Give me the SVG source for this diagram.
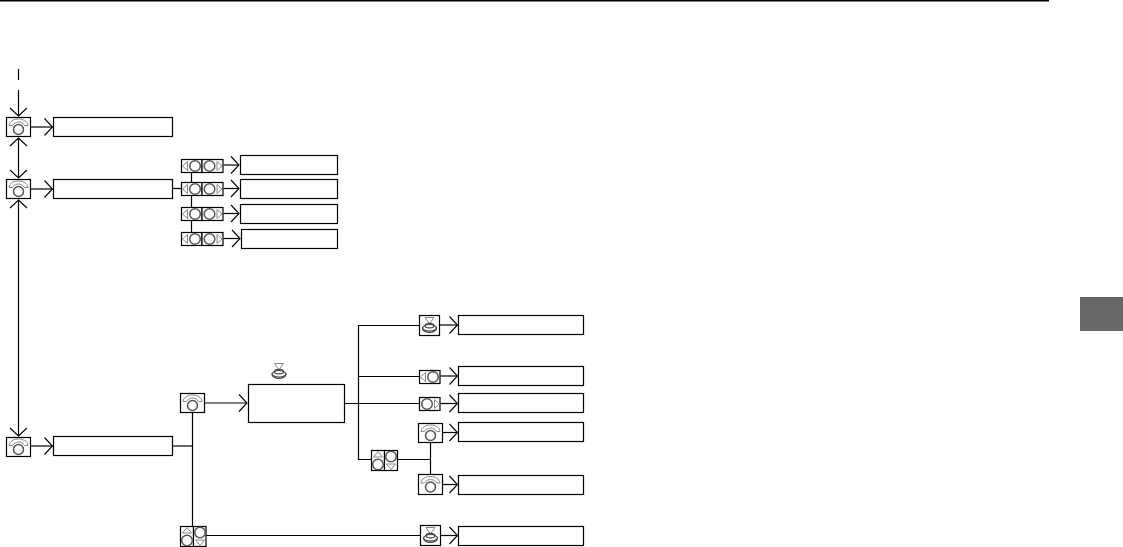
<svg xmlns="http://www.w3.org/2000/svg" width="1123" height="547" viewBox="0 0 1123 547">
<style>
.b{fill:#fff;stroke:#000;stroke-width:1.2}
.c{fill:none;stroke:#000;stroke-width:1.2}
.g{fill:none;stroke:#888;stroke-width:1}
.o{fill:none;stroke:#555;stroke-width:1.5}
.p{fill:none;stroke:#444;stroke-width:1.100}
</style>
<defs>
<marker id="a" markerUnits="userSpaceOnUse" markerWidth="20" markerHeight="20" viewBox="-10 -10 20 20" refX="0" refY="0" orient="auto-start-reverse" overflow="visible"><path d="M-8,-8.500L0,0L-8,8.500" fill="none" stroke="#000" stroke-width="1.100"/></marker>
<g id="ph"><path class="g" d="M2.500,8C3,3.500 7.500,1.500 12,1.500C16.500,1.500 21,3.500 21.500,8L18,8C16.500,5.500 14,4.500 12,4.500C10,4.500 7.500,5.500 6,8Z"/><circle class="o" cx="12" cy="12" r="5"/></g>
<g id="lr"><path class="g" d="M1,6.500L6,2V11Z"/><circle class="o" cx="13.500" cy="6.500" r="5.300"/></g>
<g id="rt"><path class="g" d="M19.500,6.500L14.500,2V11Z"/><circle class="o" cx="7" cy="6.500" r="5.300"/></g>
<g id="ud"><path class="g" d="M7,1L2.500,6.500H11.500Z"/><circle class="o" cx="7" cy="14" r="5.300"/><path class="g" d="M20,19L15.500,13.500H24.500Z"/><circle class="o" cx="20" cy="6" r="5.300"/></g>
<g id="pr"><path class="g" d="M5.500,1.500H14.500L10,8Z"/><path class="p" d="M5.500,10C5.500,6.500 14.500,6.500 14.500,10C14.500,12.500 5.500,12.500 5.500,10Z"/><path class="p" d="M3,11C2,16.500 18,16.500 17,11"/><ellipse class="p" cx="10" cy="12.500" rx="7" ry="4"/></g>
</defs>
<rect x="0" y="0" width="1049" height="1.500" fill="#000"/>
<rect x="1080" y="297" width="43" height="34" fill="#666"/>
<g id="connectors" class="c">
<path class="c" d="M18.500,69V80"/>
<path class="c" d="M18.500,90V116" marker-end="url(#a)"/>
<path class="c" d="M18.500,138V178" marker-start="url(#a)" marker-end="url(#a)"/>
<path class="c" d="M18.500,200V436" marker-start="url(#a)" marker-end="url(#a)"/>
<path class="c" d="M31,127H52.500" marker-end="url(#a)"/>
<path class="c" d="M31,189H52.500" marker-end="url(#a)"/>
<path class="c" d="M31,446H52.500" marker-end="url(#a)"/>
<path class="c" d="M173,188.500H181.500"/>
<path class="c" d="M191.500,172V245"/>
<path class="c" d="M223.500,165H239" marker-end="url(#a)"/>
<path class="c" d="M223.500,188.500H239" marker-end="url(#a)"/>
<path class="c" d="M223.500,213.500H239" marker-end="url(#a)"/>
<path class="c" d="M223.500,238.500H240" marker-end="url(#a)"/>
<path class="c" d="M173,446H192.500"/>
<path class="c" d="M192.500,412V526"/>
<path class="c" d="M205,403H247" marker-end="url(#a)"/>
<path class="c" d="M206,535.500H420.500"/>
<path class="c" d="M345,403.500H419.500"/>
<path class="c" d="M419.500,325.500H358.500V459.500H371"/>
<path class="c" d="M358.500,376.500H419.500"/>
<path class="c" d="M397.500,459.500H430.500"/>
<path class="c" d="M430.500,442V475"/>
<path class="c" d="M440,325H457.500" marker-end="url(#a)"/>
<path class="c" d="M440.500,376H457.500" marker-end="url(#a)"/>
<path class="c" d="M440.500,403.500H457.500" marker-end="url(#a)"/>
<path class="c" d="M443,432.500H457.500" marker-end="url(#a)"/>
<path class="c" d="M443,484.500H457.500" marker-end="url(#a)"/>
<path class="c" d="M441,535.500H457.500" marker-end="url(#a)"/>
</g>
<g id="phone1"><rect class="b" x="6.500" y="117.500" width="24" height="19"/><use href="#ph" x="6.500" y="117.500"/></g>
<g id="phone2"><rect class="b" x="6.500" y="179.500" width="24" height="19"/><use href="#ph" x="6.500" y="179.500"/></g>
<g id="phone3"><rect class="b" x="6.500" y="437.500" width="24" height="19"/><use href="#ph" x="6.500" y="437.500"/></g>
<g id="box1"><rect class="b" x="53.500" y="117.500" width="119" height="19"/></g>
<g id="box2"><rect class="b" x="53.500" y="179.500" width="119" height="19"/></g>
<g id="box3"><rect class="b" x="53.500" y="436.500" width="119" height="19"/></g>
<g id="lr1"><rect class="b" x="181.500" y="159.500" width="20.500" height="13"/><rect class="b" x="202" y="159.500" width="21" height="13"/><use href="#lr" x="181.500" y="159.500"/><use href="#rt" x="202.500" y="159.500"/></g>
<g id="lr2"><rect class="b" x="181.500" y="182.500" width="20.500" height="13"/><rect class="b" x="202" y="182.500" width="21" height="13"/><use href="#lr" x="181.500" y="182.500"/><use href="#rt" x="202.500" y="182.500"/></g>
<g id="lr3"><rect class="b" x="181.500" y="207.500" width="20.500" height="13"/><rect class="b" x="202" y="207.500" width="21" height="13"/><use href="#lr" x="181.500" y="207.500"/><use href="#rt" x="202.500" y="207.500"/></g>
<g id="lr4"><rect class="b" x="181.500" y="232.500" width="20.500" height="13"/><rect class="b" x="202" y="232.500" width="21" height="13"/><use href="#lr" x="181.500" y="232.500"/><use href="#rt" x="202.500" y="232.500"/></g>
<g id="opt1"><rect class="b" x="240.500" y="155.500" width="97" height="19"/></g>
<g id="opt2"><rect class="b" x="240.500" y="179.500" width="97" height="19"/></g>
<g id="opt3"><rect class="b" x="240.500" y="204.500" width="97" height="19"/></g>
<g id="opt4"><rect class="b" x="241.500" y="229.500" width="96" height="19"/></g>
<g id="phone4"><rect class="b" x="180.500" y="393.500" width="24" height="19"/><use href="#ph" x="180.500" y="393.500"/></g>
<g id="updown1"><rect class="b" x="180.500" y="526.500" width="13" height="20"/><rect class="b" x="193.500" y="526.500" width="12.500" height="20"/><use href="#ud" x="180" y="526.500"/></g>
<g id="press-free"><use href="#pr" x="269" y="362"/></g>
<g id="mid"><rect class="b" x="248.500" y="384.500" width="96" height="38"/></g>
<g id="press1"><rect class="b" x="419.500" y="315.500" width="20" height="20"/><use href="#pr" x="419.500" y="316"/></g>
<g id="left"><rect class="b" x="419.500" y="370.500" width="20.500" height="13"/><use href="#lr" x="419.500" y="370.500"/></g>
<g id="right"><rect class="b" x="419.500" y="397.500" width="20.500" height="13"/><use href="#rt" x="420" y="397.500"/></g>
<g id="phone5"><rect class="b" x="418.500" y="423.500" width="24" height="19"/><use href="#ph" x="418.500" y="423.500"/></g>
<g id="phone6"><rect class="b" x="418.500" y="474.500" width="24" height="20"/><use href="#ph" x="418.500" y="475"/></g>
<g id="updown2"><rect class="b" x="371.500" y="450.500" width="13" height="20"/><rect class="b" x="384.500" y="450.500" width="13" height="20"/><use href="#ud" x="371" y="450.500"/></g>
<g id="press2"><rect class="b" x="420.500" y="525.500" width="20" height="20"/><use href="#pr" x="420.500" y="526"/></g>
<g id="res1"><rect class="b" x="458.500" y="315.500" width="125" height="19"/></g>
<g id="res2"><rect class="b" x="458.500" y="366.500" width="125" height="19"/></g>
<g id="res3"><rect class="b" x="458.500" y="393.500" width="125" height="19"/></g>
<g id="res4"><rect class="b" x="458.500" y="422.500" width="125" height="19"/></g>
<g id="res5"><rect class="b" x="458.500" y="475.500" width="125" height="19"/></g>
<g id="res6"><rect class="b" x="458.500" y="526.500" width="125" height="19"/></g>
</svg>
